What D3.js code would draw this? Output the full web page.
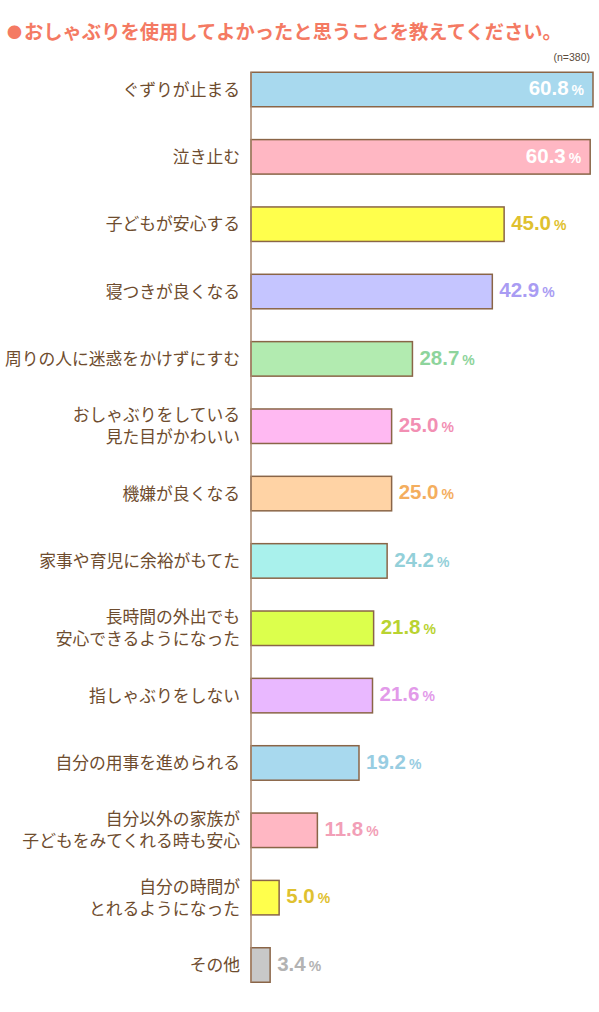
<!DOCTYPE html>
<html><head><meta charset="utf-8">
<script src="https://cdn.jsdelivr.net/npm/d3@7"></script>
<style>
html,body{margin:0;padding:0;background:#fff;}
svg{display:block;}
</style></head>
<body>
<div id="chart"></div>
<script>
const title = "●おしゃぶりを使用してよかったと思うことを教えてください。";
const sampleNote = "(n=380)";
const categories = [
  ["ぐずりが止まる"],
  ["泣き止む"],
  ["子どもが安心する"],
  ["寝つきが良くなる"],
  ["周りの人に迷惑をかけずにすむ"],
  ["おしゃぶりをしている","見た目がかわいい"],
  ["機嫌が良くなる"],
  ["家事や育児に余裕がもてた"],
  ["長時間の外出でも","安心できるようになった"],
  ["指しゃぶりをしない"],
  ["自分の用事を進められる"],
  ["自分以外の家族が","子どもをみてくれる時も安心"],
  ["自分の時間が","とれるようになった"],
  ["その他"]
];
const values = [60.8, 60.3, 45.0, 42.9, 28.7, 25.0, 25.0, 24.2, 21.8, 21.6, 19.2, 11.8, 5.0, 3.4];
const barColors = ["#a8d9ee","#ffb7c3","#ffff4c","#c5c5ff","#b2ebb0","#ffb9f2","#ffd3a5","#a9f1ec","#dcff4c","#e9b8ff","#a8d9ee","#ffb7c3","#ffff4c","#c8c8c8"];
const labelColors = ["#ffffff","#ffffff","#dfc12f","#a99cf3","#8ed49c","#f28fb3","#f4ae5e","#93d0d9","#b9d331","#e29ae9","#98cde2","#f29fb7","#dfc12f","#b3b3b3"];

const W = 599, H = 1012;
const svg = d3.select("#chart").append("svg").attr("width", W).attr("height", H);

const data = values.map((v,i)=>({i, v, label: categories[i], fill: barColors[i], lc: labelColors[i]}));

const x = d3.scaleLinear().domain([0, 60.8]).range([251, 593]);
const y = d3.scalePoint().domain(d3.range(values.length)).range([89.5, 965]);
const barH = 34.5;

// title
const tt = svg.append("text")
  .attr("x", 7).attr("y", 39)
  .attr("font-family", "'Noto Sans CJK JP', sans-serif")
  .attr("font-weight", 700).attr("font-size", 19.3)
  .attr("fill", "#f47a63");
tt.append("tspan").attr("font-size", 15).attr("dy", -1).text(title.slice(0,1));
tt.append("tspan").attr("dy", 1).attr("dx", 2).text(title.slice(1));

svg.append("text")
  .attr("x", 590).attr("y", 61).attr("text-anchor", "end")
  .attr("font-family", "'Liberation Sans', Arial, sans-serif")
  .attr("font-size", 10.5).attr("fill", "#5a4a3a")
  .text(sampleNote);

// bars
svg.append("g").selectAll("rect").data(data).join("rect")
  .attr("x", x(0))
  .attr("y", d => y(d.i) - barH/2)
  .attr("width", d => x(d.v) - x(0))
  .attr("height", barH)
  .attr("fill", d => d.fill)
  .attr("stroke", "#8a6547")
  .attr("stroke-width", 1.5);

// axis line
svg.append("line")
  .attr("x1", x(0)).attr("x2", x(0))
  .attr("y1", y(0) - barH/2).attr("y2", y(values.length-1) + barH/2)
  .attr("stroke", "#a8876e").attr("stroke-width", 1.5);

// category labels
const lab = svg.append("g")
  .attr("font-family", "'Noto Sans CJK JP', sans-serif")
  .attr("font-weight", 400)
  .attr("font-size", 16.8)
  .attr("fill", "#6e4c2e")
  .attr("text-anchor", "end");
data.forEach(d => {
  const n = d.label.length;
  const lh = 22;
  d.label.forEach((line, k) => {
    lab.append("text")
      .attr("x", 240)
      .attr("y", y(d.i) + (k - (n-1)/2) * lh)
      .attr("dy", "0.36em")
      .text(line);
  });
});

// value labels
const vl = svg.append("g")
  .attr("font-family", "'Liberation Sans', Arial, sans-serif")
  .attr("font-weight", 700);
data.forEach(d => {
  const inside = d.v > 60;
  const t = vl.append("text")
    .attr("y", y(d.i))
    .attr("dy", "0.36em")
    .attr("fill", d.lc)
    .attr("text-anchor", inside ? "end" : "start")
    .attr("x", inside ? x(d.v) - 9 : x(d.v) + 7);
  t.append("tspan").attr("font-size", 20.5).text(d.v.toFixed(1));
  t.append("tspan").attr("font-size", 14).attr("dx", 3).text("%");
});
</script>
</body></html>
